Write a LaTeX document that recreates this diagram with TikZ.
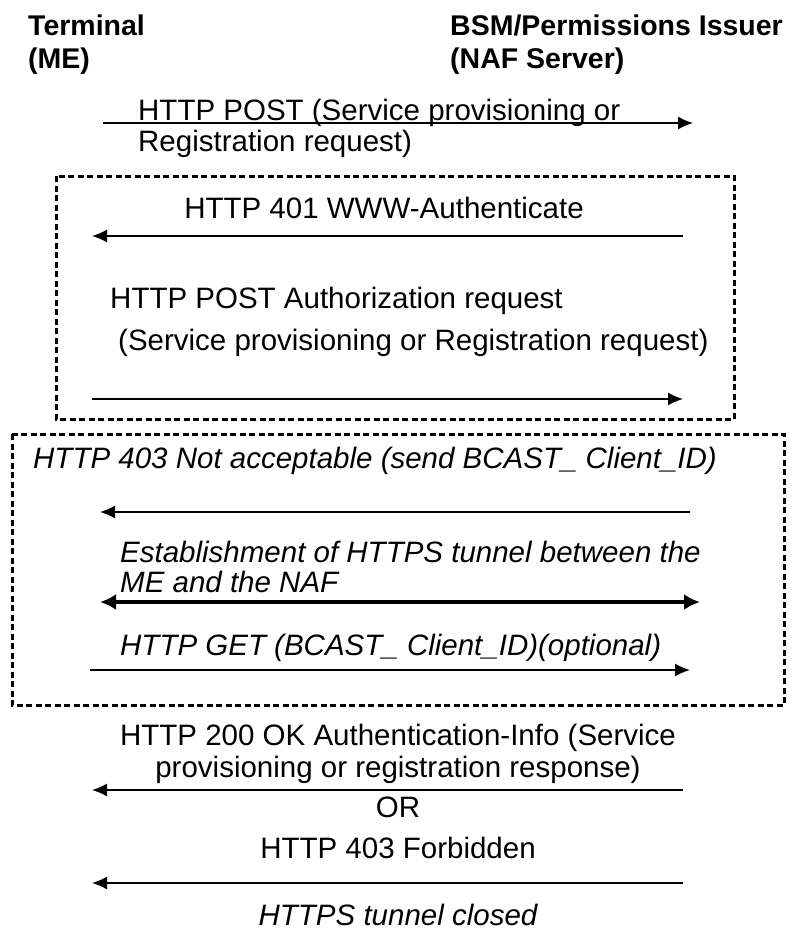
\documentclass[tikz,border=0pt]{standalone}
\usepackage{fontspec}
\setmainfont{Liberation Sans}
\usetikzlibrary{arrows.meta}

\tikzset{
    lbl/.style={anchor=base west, inner sep=0pt},
    ctr/.style={anchor=base, inner sep=0pt},
    head/.style={lbl, font=\fontsize{28.5}{32}\selectfont\bfseries},
    msg/.style={-{Latex[length=15pt,width=13pt]}, line width=1.4pt},
    frame/.style={line width=3pt, dash pattern=on 6pt off 3.5pt}
}

\begin{document}
\begin{tikzpicture}[
    x=1pt,
    y=-1pt,
    font=\fontsize{29.5}{32}\selectfont
]
\useasboundingbox (0,0) rectangle (793,935);

% --- Teilnehmer ---
\node[head] (term) at (28,35) {Terminal};
\node[head] (me) at (28,68) {(ME)};
\node[head] (bsm) at (450,35) {BSM/Permissions Issuer};
\node[head] (naf) at (450,68) {(NAF Server)};

% --- Anfrage ---
\coordinate (a1) at (103,123);
\coordinate (b1) at (693,123);
\node[lbl] (req1) at (138,120) {HTTP POST (Service provisioning or};
\node[lbl] (req2) at (138,151) {Registration request)};
\draw[msg] (a1) -- (b1);

% --- Authentifizierung ---
\draw[frame] (56,176) rectangle (734,419);
\coordinate (a2) at (92,236);
\coordinate (b2) at (683,236);
\node[ctr] (auth) at (384,218) {HTTP 401 WWW-Authenticate};
\draw[msg] (b2) -- (a2);

\coordinate (a3) at (92,399);
\coordinate (b3) at (683,399);
\node[lbl] (post1) at (110,308) {HTTP POST Authorization request};
\node[lbl] (post2) at (118,350) {(Service provisioning or Registration request)};
\draw[msg] (a3) -- (b3);

% --- HTTPS Tunnel ---
\draw[frame] (12,434) rectangle (784,705);
\coordinate (a4) at (100,512);
\coordinate (b4) at (690,512);
\node[lbl,font=\fontsize{29.5}{32}\selectfont\itshape] (nacc) at (33,468) {HTTP 403 Not acceptable (send BCAST\_ Client\_ID)};
\draw[msg] (b4) -- (a4);

\coordinate (a5) at (100,602);
\coordinate (b5) at (700,602);
\node[lbl,font=\fontsize{29.5}{32}\selectfont\itshape] (tun1) at (120,562) {Establishment of HTTPS tunnel between the};
\node[lbl,font=\fontsize{29.5}{32}\selectfont\itshape] (tun2) at (120,592) {ME and the NAF};
\draw[{Latex[length=16pt,width=16pt]}-{Latex[length=16pt,width=16pt]},line width=3.2pt] (a5) -- (b5);

\coordinate (a6) at (90,670);
\coordinate (b6) at (690,670);
\node[lbl,font=\fontsize{29.5}{32}\selectfont\itshape] (get) at (120,655) {HTTP GET (BCAST\_ Client\_ID)(optional)};
\draw[msg] (a6) -- (b6);

% --- Antwort ---
\coordinate (a7) at (92,790);
\coordinate (b7) at (683,790);
\node[ctr] (ok1) at (398,745) {HTTP 200 OK Authentication-Info (Service};
\node[ctr] (ok2) at (398,777) {provisioning or registration response)};
\draw[msg] (b7) -- (a7);
\node[ctr] (or) at (398,817) {OR};

\coordinate (a8) at (92,883);
\coordinate (b8) at (683,883);
\node[ctr] (forb) at (398,858) {HTTP 403 Forbidden};
\draw[msg] (b8) -- (a8);
\node[ctr,font=\fontsize{29.5}{32}\selectfont\itshape] (closed) at (398,925) {HTTPS tunnel closed};

\end{tikzpicture}
\end{document}
